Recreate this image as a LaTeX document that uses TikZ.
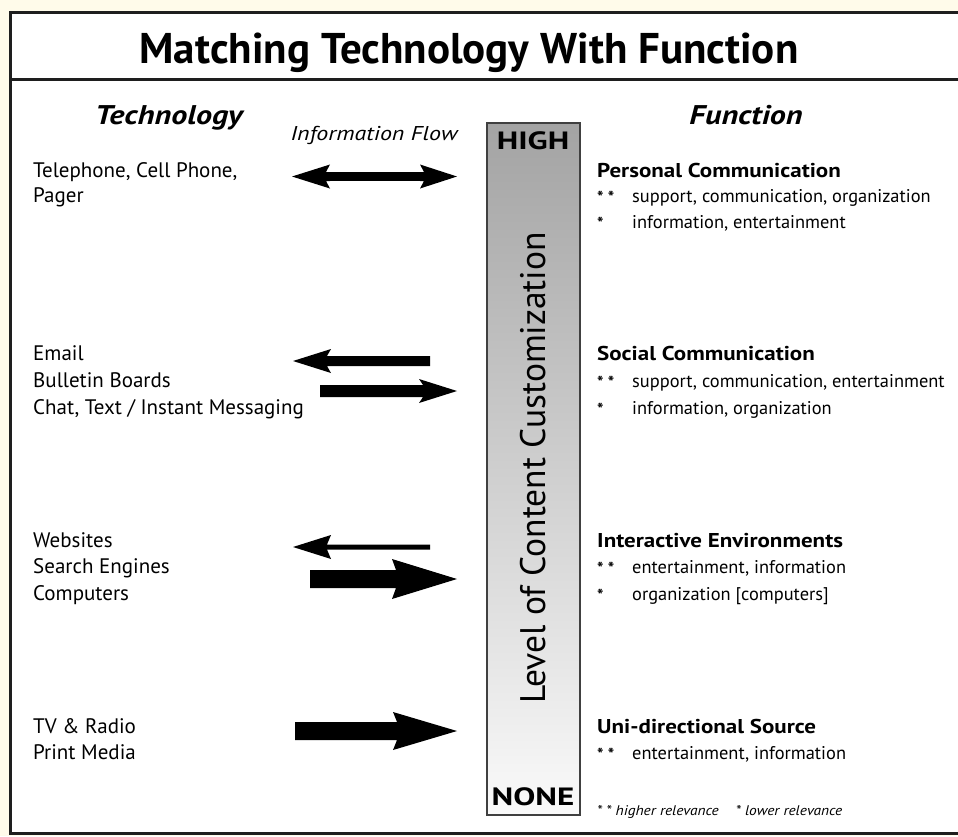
\documentclass[tikz,border=0pt]{standalone}
\usepackage{fontspec}
\setmainfont{PT Sans}
\newfontfamily\headfont[FakeStretch=1.15]{PT Sans}
\newfontfamily\colfont[FakeStretch=1.19]{PT Sans}
\newfontfamily\gaugefont[FakeStretch=1.32]{PT Sans}
\newfontfamily\flowfont[FakeStretch=1.2]{PT Sans}
\newfontfamily\keyfont[FakeStretch=1.1]{PT Sans}
\definecolor{cream}{RGB}{255,251,234}
\definecolor{framegray}{RGB}{30,30,30}

% filled block arrow pointing right: tail x, tip x, y, half shaft, head length, head half height
\newcommand{\flowRight}[6]{%
  \fill (#1,#3-#4) -- (#2-#5+4,#3-#4) -- (#2-#5,#3-#6) -- (#2,#3)
        -- (#2-#5,#3+#6) -- (#2-#5+4,#3+#4) -- (#1,#3+#4) -- cycle;}
% filled block arrow pointing left: tail x, tip x, y, half shaft, head length, head half height
\newcommand{\flowLeft}[6]{%
  \fill (#1,#3-#4) -- (#2+#5-4,#3-#4) -- (#2+#5,#3-#6) -- (#2,#3)
        -- (#2+#5,#3+#6) -- (#2+#5-4,#3+#4) -- (#1,#3+#4) -- cycle;}

\tikzset{
  lefttext/.style={anchor=base west, inner sep=0pt, font=\fontsize{21}{25}\selectfont},
  heading/.style={anchor=base west, inner sep=0pt, font=\fontsize{20}{24}\headfont\bfseries},
  stars/.style={anchor=base west, inner sep=0pt, font=\fontsize{17}{20}\selectfont\bfseries},
  funtext/.style={anchor=base west, inner sep=0pt, font=\fontsize{18.4}{22}\selectfont},
  colhead/.style={anchor=base, inner sep=0pt, font=\fontsize{27}{32}\colfont\bfseries\itshape},
  gaugelabel/.style={anchor=base, inner sep=0pt, font=\fontsize{25}{30}\gaugefont\bfseries},
}

\begin{document}
\begin{tikzpicture}[x=1pt,y=-1pt]
\useasboundingbox (0,0) rectangle (958,836);
\clip (0,0) rectangle (958,836);
\fill[cream] (0,0) rectangle (958,836);

% outer frame and title bar
\fill[white] (10,12) rectangle (970,833);
\draw[line width=3pt, framegray] (10,12) rectangle (970,833);
\draw[line width=3pt, framegray] (10,79) -- (970,79);

\node[anchor=base, inner sep=0pt, font=\fontsize{43}{48}\selectfont\bfseries] (title)
  at (469,63) {Matching Technology With Function};

% column headings
\node[colhead] (tech) at (169,124) {Technology};
\node[colhead] (func) at (746,124) {Function};
\node[anchor=base, inner sep=0pt, font=\fontsize{20}{24}\flowfont\itshape] (flow)
  at (374,140) {Information Flow};

% customization gauge
\shade[top color=black!36, bottom color=black!2, draw=black!75, line width=1.2pt]
  (487,123) rectangle (580,815);
\node[gaugelabel] (high) at (533,149.5) {HIGH};
\node[gaugelabel] (none) at (533,805) {NONE};
\node[rotate=90, inner sep=0pt, font=\fontsize{35.5}{40}\selectfont] (level)
  at (533,468) {Level of Content Customization};

% technologies
\node[lefttext] (t1a) at (33,177) {Telephone, Cell Phone,};
\node[lefttext] (t1b) at (33,202) {Pager};
\node[lefttext] (t2a) at (33,360) {Email};
\node[lefttext] (t2b) at (33,387) {Bulletin Boards};
\node[lefttext] (t2c) at (33,414) {Chat, Text / Instant Messaging};
\node[lefttext] (t3a) at (33,547) {Websites};
\node[lefttext] (t3b) at (33,573) {Search Engines};
\node[lefttext] (t3c) at (33,600) {Computers};
\node[lefttext] (t4a) at (33,733) {TV \& Radio};
\node[lefttext] (t4b) at (33,759) {Print Media};

% functions
\node[heading] (f1) at (597,177) {Personal Communication};
\node[stars] (f1s1) at (597,203) {* *};
\node[funtext] (f1a) at (632,202) {support, communication, organization};
\node[stars] (f1s2) at (597,229) {*};
\node[funtext] (f1b) at (632,228) {information, entertainment};

\node[heading] (f2) at (597,360) {Social Communication};
\node[stars] (f2s1) at (597,388) {* *};
\node[funtext] (f2a) at (632,387) {support, communication, entertainment};
\node[stars] (f2s2) at (597,415) {*};
\node[funtext] (f2b) at (632,414) {information, organization};

\node[heading] (f3) at (597,547) {Interactive Environments};
\node[stars] (f3s1) at (597,574) {* *};
\node[funtext] (f3a) at (632,573) {entertainment, information};
\node[stars] (f3s2) at (597,601) {*};
\node[funtext] (f3b) at (632,600) {organization [computers]};

\node[heading] (f4) at (597,733) {Uni-directional Source};
\node[stars] (f4s1) at (597,760) {* *};
\node[funtext] (f4a) at (632,759) {entertainment, information};

\node[anchor=base west, inner sep=0pt, font=\fontsize{14}{16}\keyfont\itshape] (key)
  at (597,815) {* * higher relevance\hspace{17pt}* lower relevance};

% information flow arrows
% two-way exchange
\fill (325,172) rectangle (425,181);
\flowLeft{330}{292}{176.5}{4.5}{38}{12}
\flowRight{420}{457}{176.5}{4.5}{37}{12}
% mostly two-way
\flowLeft{430}{293}{361}{5}{38}{12}
\flowRight{320}{457}{391}{6}{38}{12}
% weak return, strong delivery
\flowLeft{430}{293}{547}{2.5}{38}{12}
\flowRight{310}{457}{579}{9}{65}{20}
% one-way delivery
\flowRight{295}{457}{731}{9}{64}{19}
\end{tikzpicture}
\end{document}
